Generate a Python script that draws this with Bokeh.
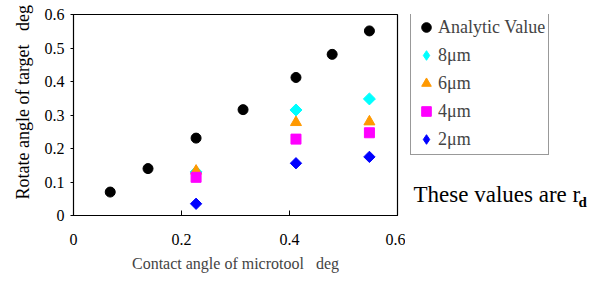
from bokeh.plotting import figure
from bokeh.layouts import row
from bokeh.models import Legend, LegendItem, Label, Range1d, FixedTicker, Title
from bokeh.embed import file_html
from bokeh.resources import INLINE
import math

# data
analytic_x = [0.068, 0.138, 0.227, 0.314, 0.412, 0.479, 0.548]
analytic_y = [0.070, 0.140, 0.231, 0.316, 0.412, 0.481, 0.551]
meas_x = [0.227, 0.412, 0.548]
um8_y = [0.130, 0.315, 0.348]
um6_y = [0.133, 0.278, 0.280]
um4_y = [0.114, 0.228, 0.247]
um2_y = [0.035, 0.156, 0.175]
yticks = [0, 0.1, 0.2, 0.3, 0.4, 0.5, 0.6]
xticks = [0, 0.2, 0.4, 0.6]
legend_labels = ["Analytic Value", "8\u03bcm", "6\u03bcm", "4\u03bcm", "2\u03bcm"]

FONT = "Liberation Serif"

styles = [
    dict(marker="circle", size=10, color="black", angle=0),
    dict(marker="square", size=8.5, color="#00FFFF", angle=math.pi / 4),
    dict(marker="triangle", size=11, color="#FF9900", angle=0),
    dict(marker="square", size=10, color="#FF00FF", angle=0),
    dict(marker="square", size=8, color="#0000FF", angle=math.pi / 4),
]
legend_markers = ["circle", "diamond", "triangle", "square", "diamond"]
series = [(analytic_x, analytic_y), (meas_x, um8_y), (meas_x, um6_y),
          (meas_x, um4_y), (meas_x, um2_y)]

p = figure(width=405, height=274, output_backend="svg", toolbar_location=None,
           x_range=Range1d(0, 0.6), y_range=Range1d(0, 0.6),
           min_border_left=73, min_border_right=8, min_border_top=14, min_border_bottom=58)
p.xgrid.visible = False
p.ygrid.visible = False
p.outline_line_color = "black"
p.outline_line_width = 1.2

for (xs, ys), st in zip(series, styles):
    p.scatter(xs, ys, marker=st["marker"], size=st["size"], color=st["color"],
              angle=st["angle"])

for ax in (p.xaxis[0], p.yaxis[0]):
    ax.axis_line_color = "black"
    ax.major_tick_line_color = "black"
    ax.minor_tick_line_color = None
    ax.major_label_text_font = FONT
    ax.major_label_text_font_size = "16px"
    ax.major_label_text_color = "black"

p.xaxis.ticker = FixedTicker(ticks=xticks)
p.yaxis.ticker = FixedTicker(ticks=yticks)
p.xaxis.major_label_overrides = {0: "0", 0.2: "0.2", 0.4: "0.4", 0.6: "0.6"}
p.yaxis.major_label_overrides = {0: "0"}
p.xaxis.major_tick_in = 5
p.xaxis.major_tick_out = 0
p.xaxis.major_label_standoff = 18
p.yaxis.major_tick_in = 0
p.yaxis.major_tick_out = 3
p.yaxis.major_label_standoff = 6

p.xaxis.axis_label = "Contact angle of microtool\u00a0\u00a0\u00a0deg"
p.xaxis.axis_label_text_font = FONT
p.xaxis.axis_label_text_font_size = "16px"
p.xaxis.axis_label_text_font_style = "normal"
p.xaxis.axis_label_standoff = 7

ytitle = Title(text="Rotate angle of target\u00a0\u00a0\u00a0deg", align="left", offset=16,
               text_font=FONT, text_font_size="18px", text_font_style="normal",
               text_color="black", standoff=18)
p.add_layout(ytitle, "left")

# right-hand side: legend and note (frame aligned with the main plot frame)
p2 = figure(width=184, height=274, output_backend="svg", toolbar_location=None,
            x_range=Range1d(0, 1), y_range=Range1d(0, 1),
            x_axis_location=None, y_axis_location=None,
            min_border=0)
p2.xgrid.visible = False
p2.ygrid.visible = False
p2.outline_line_color = None

items = []
for lab, st, mk in zip(legend_labels, styles, legend_markers):
    r = p2.scatter([-5], [-5], marker=mk, size=st["size"], color=st["color"])
    items.append(LegendItem(label=lab, renderers=[r]))

legend = Legend(items=items, location=(5, 60),
                label_text_font=FONT, label_text_font_size="18px",
                label_height=24, glyph_height=24, glyph_width=24,
                label_standoff=0, spacing=4, padding=3, margin=0,
                border_line_color="#333333", border_line_width=1.2)
p2.add_layout(legend)

p2.add_layout(Label(x=8, y=21, x_units="screen", y_units="screen",
                    text="These values are r", text_font=FONT, text_font_size="23px",
                    text_baseline="alphabetic", text_color="black"))
p2.add_layout(Label(x=173, y=14, x_units="screen", y_units="screen",
                    text="d", text_font=FONT, text_font_size="15px", text_font_style="bold",
                    text_baseline="alphabetic", text_color="black"))

layout = row(p, p2, spacing=0)
open("out.html", "w").write(file_html(layout, INLINE))
